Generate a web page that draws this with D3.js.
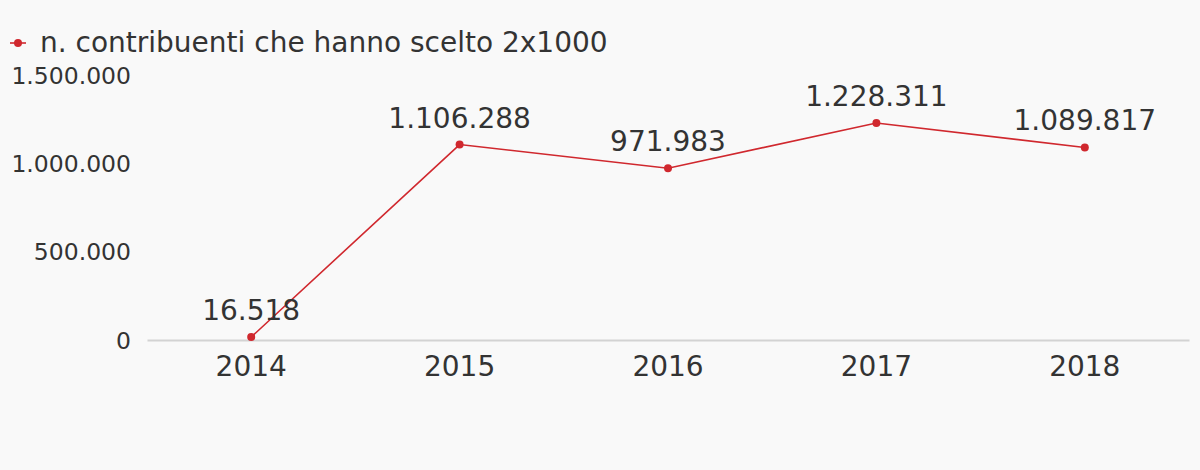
<!DOCTYPE html>
<html><head><meta charset="utf-8">
<script src="https://cdn.jsdelivr.net/npm/d3@7"></script>
<style>
html,body{margin:0;padding:0;background:#f9f9f9;}
svg{display:block;font-family:"DejaVu Sans",sans-serif;}
svg text{font-family:"DejaVu Sans",sans-serif;}
</style></head>
<body><svg id="c" width="1200" height="470"></svg>
<script>
const years = ["2014","2015","2016","2017","2018"];
const values = [16518, 1106288, 971983, 1228311, 1089817];
const yTicks = [0, 500000, 1000000, 1500000];
const seriesName = "n. contribuenti che hanno scelto 2x1000";

const svg = d3.select("#c");
const color = "#d0282e";
const fmt = d3.formatLocale({decimal:",", thousands:".", grouping:[3], currency:["€",""]}).format(",d");

const x = d3.scaleBand().domain(years).range([147, 1189]);
const y = d3.scaleLinear().domain([0, 1500000]).range([340, 75]);

svg.append("rect").attr("width",1200).attr("height",470).attr("fill","#f9f9f9");

// y tick labels
const yAxis = d3.axisLeft(y).tickValues(yTicks).tickFormat(fmt).tickSize(0).tickPadding(0);
const gy = svg.append("g").attr("transform","translate(131,0)").call(yAxis);
gy.attr("font-family",null).attr("font-size",null);
gy.select(".domain").remove();
gy.selectAll("text").attr("fill","#333").style("font-size","23.5px").attr("dy","0.35em");

// x axis
const xAxis = d3.axisBottom(x).tickSize(0).tickPadding(16);
const gx = svg.append("g").attr("transform","translate(0,340)").call(xAxis);
gx.attr("font-family",null).attr("font-size",null);
gx.select(".domain").attr("stroke","#d3d3d3").attr("stroke-width",2);
gx.selectAll("text").attr("fill","#333").style("font-size","28px").attr("dy","0.71em");

const cx = d => x(d) + x.bandwidth()/2;
const line = d3.line().x((d,i)=>cx(years[i])).y(d=>y(d));
svg.append("path").datum(values).attr("d",line).attr("fill","none").attr("stroke",color).attr("stroke-width",1.6);

svg.selectAll("circle.pt").data(values).join("circle").attr("class","pt")
  .attr("cx",(d,i)=>cx(years[i])).attr("cy",d=>y(d)).attr("r",4).attr("fill",color);

svg.selectAll("text.lbl").data(values).join("text").attr("class","lbl")
  .attr("x",(d,i)=>cx(years[i])).attr("y",d=>y(d)-17)
  .attr("text-anchor","middle").attr("fill","#333").style("font-size","28px")
  .text(d=>fmt(d));

// legend
const lg = svg.append("g");
lg.append("line").attr("x1",10).attr("x2",26).attr("y1",43).attr("y2",43).attr("stroke",color).attr("stroke-width",1.6);
lg.append("circle").attr("cx",18).attr("cy",43).attr("r",4).attr("fill",color);
lg.append("text").attr("x",40).attr("y",42).attr("dy","0.35em").attr("fill","#333").style("font-size","28px").text(seriesName);
</script></body></html>
